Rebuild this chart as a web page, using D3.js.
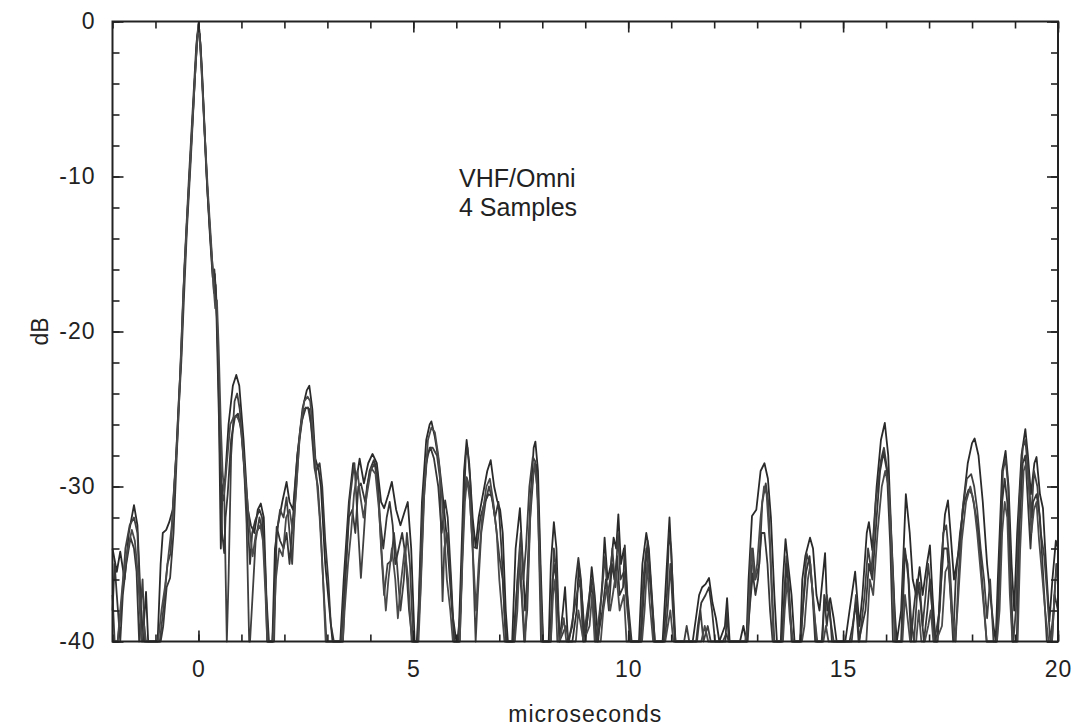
<!DOCTYPE html>
<html>
<head>
<meta charset="utf-8">
<script src="https://cdn.jsdelivr.net/npm/d3@7"></script>
<style>
  body { margin: 0; background: #fff; }
  text { font-family: "Liberation Sans", Arial, sans-serif; fill: #222; }
</style>
</head>
<body>
<div id="chart"></div>
<script>
// four measured impulse responses, [microseconds, dB] pairs read off the plot
// values below -40 sit on the floor of the plot
var sample1 = [[-2.0,-34],[-1.9,-35.5],[-1.82,-34.2],[-1.72,-36],[-1.62,-33],[-1.5,-31.2],[-1.42,-32.5],[-1.35,-37],[-1.3,-42],[-1.22,-36.8],[-1.17,-42],[-0.95,-42],[-0.88,-35],[-0.83,-33],[-0.75,-32.8],[-0.68,-32.3],[-0.6,-31.5],[-0.52,-28],[-0.45,-24],[-0.4,-21.5],[-0.33,-16],[-0.22,-10],[-0.12,-5],[-0.05,-1.5],[0,-0.2],[0.05,-1.5],[0.12,-5.5],[0.2,-10.5],[0.28,-14],[0.32,-15.5],[0.35,-16.5],[0.38,-16.3],[0.42,-19],[0.48,-26],[0.52,-34],[0.56,-30],[0.62,-29.5],[0.7,-26],[0.8,-23.5],[0.88,-22.8],[0.95,-23.5],[1.05,-27],[1.15,-31.5],[1.22,-32.5],[1.3,-33],[1.38,-31.5],[1.45,-31.1],[1.52,-32],[1.58,-37],[1.64,-42],[1.72,-42],[1.78,-34],[1.85,-32.5],[1.95,-31],[2.05,-29.7],[2.12,-31],[2.2,-31.5],[2.3,-28],[2.42,-25],[2.52,-23.8],[2.58,-23.5],[2.65,-25],[2.72,-28.2],[2.8,-29],[2.85,-30],[2.95,-35],[3.05,-38],[3.12,-42],[3.3,-42],[3.38,-36],[3.5,-31],[3.6,-28.5],[3.68,-29.5],[3.75,-28.2],[3.85,-29.8],[3.95,-28.5],[4.05,-27.9],[4.15,-28.5],[4.25,-31],[4.32,-31.4],[4.42,-30.5],[4.5,-29.7],[4.6,-31.5],[4.7,-32.5],[4.8,-31.6],[4.87,-31],[4.95,-34],[5.03,-40],[5.08,-42],[5.12,-38],[5.2,-31],[5.3,-27],[5.38,-26],[5.42,-25.8],[5.5,-26.8],[5.6,-28.5],[5.7,-31],[5.8,-34],[5.9,-38],[6.0,-42],[6.05,-42],[6.1,-36],[6.18,-29],[6.24,-27],[6.3,-28.5],[6.38,-32],[6.45,-33.9],[6.52,-32],[6.62,-30.5],[6.72,-29],[6.8,-28.3],[6.88,-30],[6.95,-30.9],[7.02,-31.5],[7.08,-33],[7.15,-38],[7.2,-42],[7.3,-42],[7.38,-34],[7.48,-31.4],[7.55,-35],[7.6,-38],[7.65,-36],[7.72,-31],[7.8,-27.5],[7.84,-27.1],[7.9,-29],[7.96,-35],[8.02,-42],[8.15,-42],[8.2,-35],[8.27,-32.3],[8.33,-34],[8.4,-40],[8.48,-38],[8.53,-36.5],[8.6,-40],[8.7,-42],[8.8,-38],[8.85,-35],[8.92,-37],[9.0,-42],[9.1,-37],[9.15,-35.2],[9.22,-37],[9.3,-42],[9.4,-36],[9.45,-33.3],[9.52,-36],[9.6,-35],[9.66,-33.3],[9.72,-34],[9.77,-31.8],[9.83,-35],[9.9,-34],[9.95,-36],[10.05,-42],[10.25,-42],[10.33,-35],[10.42,-33],[10.48,-34],[10.55,-37],[10.62,-42],[10.8,-42],[10.88,-36],[10.96,-32],[11.03,-36],[11.1,-42],[11.5,-42],[11.6,-38],[11.65,-37],[11.72,-36.5],[11.8,-36.3],[11.88,-35.9],[11.96,-37.5],[12.04,-38.5],[12.12,-42],[12.25,-39],[12.3,-37.2],[12.36,-42],[12.6,-42],[12.68,-39],[12.75,-42],[12.8,-36],[12.88,-31.9],[12.98,-31.5],[13.08,-29],[13.17,-28.5],[13.25,-29.5],[13.32,-32],[13.4,-37],[13.46,-42],[13.55,-42],[13.6,-36],[13.66,-33.4],[13.72,-35],[13.8,-37],[13.87,-42],[14.0,-42],[14.05,-36],[14.12,-34.5],[14.23,-33.3],[14.3,-34],[14.38,-37],[14.45,-38],[14.52,-36],[14.58,-34.3],[14.63,-38],[14.7,-37.2],[14.78,-38.5],[14.85,-42],[15.05,-42],[15.15,-38],[15.28,-35.5],[15.38,-39],[15.45,-37],[15.55,-33],[15.6,-32.3],[15.68,-34.1],[15.78,-30],[15.88,-27],[15.97,-25.9],[16.05,-28],[16.12,-33],[16.2,-38],[16.25,-42],[16.35,-38],[16.46,-30.5],[16.55,-33],[16.62,-36],[16.7,-37],[16.78,-35.2],[16.85,-37],[16.95,-35],[17.02,-33.8],[17.08,-37],[17.15,-40],[17.2,-42],[17.28,-35],[17.37,-31.8],[17.44,-30.9],[17.5,-33],[17.58,-36],[17.7,-34],[17.8,-31],[17.9,-28.5],[18.0,-27.2],[18.06,-26.9],[18.15,-28],[18.25,-31],[18.35,-35],[18.42,-36.9],[18.5,-39],[18.55,-42],[18.6,-36],[18.7,-29],[18.78,-27.7],[18.85,-30],[18.92,-35],[18.98,-38],[19.05,-33],[19.15,-28],[19.24,-26.3],[19.3,-28],[19.37,-30.5],[19.45,-28.5],[19.5,-28.1],[19.58,-30.5],[19.65,-31.4],[19.72,-35],[19.8,-38.7],[19.87,-36],[19.95,-33.5],[20.0,-34]];

var sample2 = [[-2.0,-37],[-1.95,-40],[-1.88,-42],[-1.8,-38],[-1.7,-34],[-1.6,-32.5],[-1.5,-32],[-1.42,-33],[-1.35,-38],[-1.3,-36],[-1.25,-42],[-0.9,-42],[-0.82,-38],[-0.72,-35],[-0.65,-34.3],[-0.58,-31],[-0.5,-27],[-0.43,-23],[-0.36,-18],[-0.28,-13.5],[-0.2,-9.5],[-0.1,-4.5],[-0.03,-1],[0.02,-0.5],[0.08,-3],[0.15,-7.5],[0.22,-11.5],[0.3,-15],[0.36,-17.5],[0.4,-17],[0.45,-20.5],[0.5,-27],[0.55,-31],[0.6,-30.5],[0.66,-42],[0.7,-36],[0.76,-28],[0.84,-24.5],[0.9,-24],[0.96,-25],[1.05,-28],[1.12,-32.4],[1.18,-40],[1.2,-42],[1.26,-37],[1.33,-33.5],[1.42,-32],[1.5,-33],[1.56,-36],[1.62,-42],[1.76,-42],[1.82,-33],[1.9,-31.5],[1.98,-32],[2.05,-30.7],[2.12,-33],[2.18,-35],[2.25,-31],[2.35,-27],[2.45,-25],[2.55,-24.9],[2.62,-26],[2.7,-28.8],[2.78,-30],[2.85,-33],[2.9,-36],[2.98,-40],[3.02,-42],[3.32,-42],[3.38,-37.4],[3.45,-34],[3.52,-30.9],[3.58,-29.5],[3.63,-28.5],[3.68,-31],[3.72,-33],[3.78,-35.9],[3.85,-33],[3.92,-30],[4.0,-29],[4.1,-28.5],[4.18,-30],[4.25,-34],[4.32,-37],[4.4,-35],[4.48,-34.8],[4.55,-33],[4.62,-35],[4.7,-38],[4.78,-36],[4.85,-33],[4.92,-35],[5.0,-42],[5.1,-42],[5.15,-36],[5.22,-31],[5.3,-28.5],[5.38,-27.5],[5.45,-27.5],[5.55,-28],[5.62,-29.5],[5.68,-37.4],[5.72,-34],[5.78,-33],[5.85,-35.2],[5.95,-40],[6.02,-42],[6.1,-38],[6.18,-31],[6.24,-29.4],[6.3,-30],[6.38,-34],[6.45,-42],[6.5,-37],[6.58,-33],[6.68,-31],[6.76,-30],[6.85,-31],[6.92,-32.5],[7.0,-34.5],[7.08,-36],[7.15,-42],[7.35,-42],[7.42,-36],[7.5,-33],[7.56,-36],[7.62,-34],[7.7,-30],[7.78,-28.1],[7.84,-28.4],[7.9,-31],[7.97,-40],[8.0,-42],[8.2,-42],[8.27,-34],[8.33,-35.5],[8.4,-42],[8.55,-39],[8.62,-42],[8.8,-37],[8.88,-36],[8.95,-42],[9.12,-36.5],[9.18,-36],[9.25,-42],[9.38,-37],[9.46,-34.5],[9.52,-37],[9.58,-36],[9.63,-34],[9.7,-36.5],[9.76,-33],[9.82,-36],[9.9,-35.5],[9.98,-38],[10.05,-42],[10.28,-42],[10.35,-36],[10.42,-34],[10.5,-36],[10.55,-37.4],[10.62,-42],[10.85,-42],[10.92,-37.8],[10.98,-35],[11.04,-38],[11.1,-42],[11.3,-42],[11.36,-39],[11.42,-42],[11.55,-42],[11.6,-40],[11.68,-38],[11.75,-40],[11.85,-39],[11.92,-42],[12.2,-42],[12.28,-39.5],[12.34,-42],[12.78,-42],[12.84,-37],[12.9,-34],[12.96,-36],[13.05,-35],[13.12,-31],[13.2,-29.8],[13.26,-31],[13.32,-35],[13.4,-42],[13.58,-42],[13.63,-37],[13.68,-34.5],[13.74,-36.5],[13.8,-42],[14.02,-42],[14.08,-37],[14.15,-34.3],[14.22,-35],[14.3,-37],[14.38,-42],[14.5,-42],[14.55,-38],[14.62,-37],[14.7,-38.5],[14.78,-42],[15.1,-42],[15.2,-40],[15.3,-37],[15.38,-42],[15.5,-37],[15.58,-34],[15.66,-35.5],[15.76,-31],[15.88,-28.3],[15.95,-27.5],[16.02,-28.8],[16.1,-32],[16.18,-37],[16.22,-42],[16.35,-40],[16.42,-34.1],[16.5,-35],[16.58,-38.5],[16.65,-42],[16.72,-37],[16.78,-36.2],[16.85,-39],[16.92,-37],[16.98,-35],[17.05,-37],[17.12,-42],[17.25,-38],[17.33,-33],[17.4,-32.5],[17.48,-35],[17.55,-38.5],[17.62,-42],[17.68,-36],[17.78,-31.5],[17.88,-29.5],[17.98,-29.2],[18.05,-30],[18.12,-31.5],[18.2,-34],[18.28,-36],[18.35,-38.5],[18.42,-36],[18.5,-42],[18.58,-40],[18.65,-34],[18.72,-29],[18.78,-28.2],[18.84,-30],[18.9,-36],[18.96,-42],[19.02,-38],[19.1,-31],[19.18,-27.5],[19.24,-27],[19.32,-29.5],[19.38,-32],[19.44,-29],[19.52,-30],[19.6,-33],[19.68,-34.5],[19.75,-37],[19.82,-42],[19.9,-38],[19.96,-35],[20.0,-36]];

var sample3 = [[-2.0,-38],[-1.95,-35],[-1.9,-37],[-1.82,-40],[-1.76,-37],[-1.68,-35],[-1.58,-33.3],[-1.5,-34],[-1.44,-35.5],[-1.38,-40],[-1.33,-38],[-1.28,-42],[-0.88,-42],[-0.82,-39],[-0.74,-36.5],[-0.66,-35.9],[-0.58,-33],[-0.52,-29],[-0.46,-25],[-0.4,-22],[-0.34,-18],[-0.27,-13.5],[-0.18,-9],[-0.08,-3.5],[-0.02,-0.8],[0.03,-0.8],[0.1,-4.5],[0.18,-9.5],[0.26,-13.5],[0.33,-16.5],[0.37,-16],[0.41,-17.5],[0.46,-22],[0.5,-28],[0.55,-33],[0.6,-34.3],[0.63,-32],[0.68,-30.5],[0.76,-27],[0.85,-25.5],[0.92,-25.3],[1.0,-26.5],[1.08,-29.5],[1.15,-32.5],[1.2,-35],[1.25,-33],[1.32,-32.2],[1.42,-31.5],[1.48,-32],[1.55,-35],[1.6,-40],[1.63,-42],[1.72,-42],[1.76,-38],[1.82,-32.6],[1.9,-33.5],[1.98,-34],[2.05,-33],[2.12,-35],[2.2,-32],[2.3,-28],[2.4,-25.8],[2.5,-24.9],[2.58,-25],[2.66,-27],[2.73,-29],[2.82,-28.5],[2.88,-30],[2.95,-33.5],[3.02,-36],[3.08,-38.9],[3.15,-42],[3.36,-42],[3.42,-36],[3.5,-32],[3.58,-31.5],[3.65,-33],[3.72,-30],[3.78,-29.8],[3.88,-31],[3.98,-29],[4.08,-28.3],[4.16,-29],[4.22,-32],[4.3,-34],[4.38,-32],[4.45,-31],[4.52,-32.5],[4.58,-35],[4.66,-34],[4.74,-33],[4.82,-34.5],[4.9,-38],[4.98,-42],[5.1,-42],[5.16,-37],[5.24,-31],[5.32,-28],[5.4,-27.5],[5.48,-28.2],[5.58,-30],[5.66,-33],[5.74,-30.9],[5.8,-32],[5.88,-36],[5.95,-40],[6.0,-42],[6.08,-40],[6.15,-33],[6.22,-28],[6.26,-27.5],[6.32,-29.5],[6.4,-33.9],[6.48,-34],[6.56,-32],[6.66,-31],[6.75,-30.5],[6.82,-30.6],[6.9,-32],[6.98,-31],[7.05,-34],[7.12,-38],[7.17,-42],[7.32,-42],[7.4,-37],[7.46,-35],[7.52,-37],[7.58,-42],[7.65,-38],[7.72,-32],[7.8,-29],[7.86,-28.6],[7.92,-32],[7.98,-38],[8.02,-42],[8.18,-42],[8.24,-36],[8.3,-35],[8.36,-38],[8.42,-42],[8.6,-42],[8.7,-39],[8.78,-36],[8.84,-34.6],[8.9,-36],[8.98,-42],[9.08,-38],[9.14,-36],[9.2,-38.5],[9.28,-42],[9.4,-38],[9.48,-36],[9.55,-38],[9.62,-35],[9.68,-36],[9.74,-34.5],[9.8,-37],[9.88,-36.5],[9.92,-33.8],[9.98,-37],[10.08,-42],[10.3,-42],[10.38,-36],[10.45,-33.5],[10.52,-36],[10.6,-42],[10.82,-42],[10.9,-37],[10.95,-33],[11.0,-34],[11.08,-42],[11.58,-42],[11.62,-39],[11.7,-37.5],[11.8,-37],[11.88,-36.5],[11.95,-38],[12.02,-42],[12.26,-42],[12.3,-38],[12.34,-42],[12.76,-42],[12.82,-38],[12.9,-35.6],[12.96,-37],[13.02,-36],[13.1,-33],[13.17,-33],[13.24,-35],[13.3,-38],[13.36,-42],[13.56,-42],[13.62,-38],[13.68,-35],[13.75,-37.3],[13.82,-42],[14.0,-42],[14.06,-38],[14.14,-35.5],[14.22,-34.5],[14.28,-36.5],[14.35,-42],[14.52,-42],[14.56,-37],[14.62,-39],[14.68,-37.5],[14.74,-40],[14.8,-42],[15.15,-42],[15.22,-39],[15.3,-37.5],[15.36,-42],[15.52,-38],[15.6,-35],[15.68,-36],[15.78,-32],[15.86,-29],[15.94,-27.8],[16.02,-29],[16.1,-34],[16.16,-42],[16.36,-40],[16.44,-34],[16.52,-36],[16.58,-40],[16.64,-38],[16.72,-36],[16.8,-37.5],[16.88,-42],[16.96,-38],[17.02,-36],[17.1,-39],[17.18,-42],[17.26,-37],[17.34,-34],[17.42,-34],[17.5,-37],[17.56,-40],[17.62,-36],[17.72,-33],[17.82,-31],[17.92,-30.2],[18.0,-30.5],[18.1,-32],[18.18,-34],[18.26,-37],[18.34,-42],[18.56,-42],[18.62,-37],[18.7,-31],[18.76,-29.5],[18.82,-31],[18.88,-35],[18.94,-42],[19.04,-40],[19.1,-33],[19.18,-28.5],[19.24,-28],[19.3,-31],[19.36,-34],[19.42,-31],[19.5,-30.5],[19.58,-32],[19.66,-36],[19.74,-42],[19.86,-42],[19.92,-37],[20.0,-38]];

var sample4 = [[-2.0,-40],[-1.96,-42],[-1.88,-42],[-1.82,-38],[-1.74,-35.5],[-1.64,-34],[-1.55,-32.8],[-1.48,-33.5],[-1.4,-36],[-1.33,-42],[-1.26,-39],[-1.22,-42],[-0.94,-42],[-0.86,-38],[-0.78,-36.5],[-0.7,-34.5],[-0.62,-32.5],[-0.55,-29.5],[-0.48,-26.5],[-0.42,-22.5],[-0.35,-17.5],[-0.26,-12.5],[-0.16,-7.5],[-0.06,-2.5],[0,-0.1],[0.06,-2.5],[0.14,-7],[0.22,-11],[0.3,-14.5],[0.35,-17],[0.39,-18.5],[0.43,-18],[0.47,-21],[0.52,-26],[0.56,-29],[0.6,-30.5],[0.66,-28.5],[0.74,-26],[0.82,-25.5],[0.9,-25.5],[0.98,-26],[1.06,-28.5],[1.14,-31],[1.2,-33],[1.26,-34.5],[1.34,-33],[1.44,-32.5],[1.5,-33.5],[1.56,-37],[1.6,-42],[1.74,-42],[1.8,-36],[1.88,-34],[1.96,-34.5],[2.04,-32],[2.12,-31.5],[2.2,-33],[2.28,-30],[2.36,-26.5],[2.46,-24.5],[2.54,-24.2],[2.6,-24.5],[2.68,-27],[2.75,-29.5],[2.82,-32],[2.9,-36],[2.96,-42],[3.36,-42],[3.4,-38],[3.48,-35],[3.55,-33],[3.62,-30.5],[3.7,-29],[3.76,-30.5],[3.84,-32],[3.92,-30.5],[4.02,-28.8],[4.12,-29.2],[4.2,-31.5],[4.28,-35],[4.36,-38],[4.42,-36],[4.5,-34],[4.58,-36],[4.64,-38.5],[4.72,-36],[4.8,-34],[4.88,-36],[4.96,-42],[5.12,-42],[5.18,-36],[5.26,-30],[5.34,-27],[5.42,-26.2],[5.5,-26.5],[5.58,-28],[5.66,-30.5],[5.72,-33],[5.78,-36],[5.86,-38],[5.92,-42],[6.08,-42],[6.14,-35],[6.2,-31],[6.25,-29.5],[6.32,-31],[6.4,-35],[6.46,-38],[6.52,-35],[6.6,-32],[6.7,-30],[6.78,-29.5],[6.86,-31],[6.94,-33],[7.0,-36],[7.06,-38],[7.12,-42],[7.36,-42],[7.42,-38],[7.48,-34],[7.54,-37.5],[7.6,-42],[7.66,-36],[7.74,-30.5],[7.82,-28.5],[7.88,-30],[7.95,-36],[8.0,-42],[8.2,-42],[8.25,-37],[8.3,-36],[8.35,-40],[8.4,-42],[8.5,-38.5],[8.56,-42],[8.78,-42],[8.84,-38],[8.9,-39],[8.96,-42],[9.1,-39],[9.16,-37],[9.22,-42],[9.36,-42],[9.42,-38],[9.5,-36.5],[9.58,-38],[9.64,-37],[9.72,-35.5],[9.8,-38],[9.9,-37],[9.96,-40],[10.02,-42],[10.32,-42],[10.38,-38],[10.44,-35],[10.5,-37.5],[10.58,-42],[10.86,-42],[10.92,-39],[10.98,-38],[11.05,-42],[11.4,-42],[11.45,-40],[11.5,-42],[11.62,-42],[11.7,-40],[11.78,-39],[11.86,-40.5],[11.92,-42],[12.72,-42],[12.78,-39],[12.86,-34],[12.94,-36],[13.0,-35],[13.08,-32],[13.16,-30],[13.22,-30.5],[13.3,-34],[13.38,-42],[13.6,-42],[13.64,-38],[13.7,-36],[13.76,-38.5],[13.84,-42],[14.04,-42],[14.1,-39],[14.18,-36],[14.24,-35],[14.32,-38],[14.4,-42],[14.54,-42],[14.6,-39],[14.66,-40.5],[14.72,-42],[15.2,-42],[15.26,-40],[15.32,-42],[15.54,-40],[15.62,-36],[15.7,-37],[15.8,-33],[15.9,-30],[15.98,-29],[16.06,-30],[16.14,-35],[16.2,-42],[16.38,-42],[16.44,-37],[16.5,-38.5],[16.56,-42],[16.7,-40],[16.76,-38],[16.82,-40],[16.9,-42],[16.98,-39],[17.04,-38],[17.1,-40],[17.16,-42],[17.3,-39],[17.38,-35.5],[17.46,-35],[17.52,-38],[17.6,-42],[17.66,-38],[17.76,-33.5],[17.86,-31],[17.96,-30],[18.04,-31],[18.12,-33],[18.2,-35.5],[18.28,-38],[18.34,-42],[18.58,-42],[18.64,-38],[18.7,-33],[18.76,-31],[18.82,-32],[18.88,-37],[18.94,-42],[19.06,-42],[19.12,-34],[19.2,-29],[19.26,-28.5],[19.32,-30],[19.38,-33],[19.44,-31.5],[19.5,-31],[19.56,-33.5],[19.64,-36],[19.7,-38],[19.78,-42],[19.86,-40],[19.94,-36],[20.0,-35]];

var samples = [sample1, sample2, sample3, sample4];

var xMajor = [0, 5, 10, 15, 20];
var yMajor = [0, -10, -20, -30, -40];

var margin = {top: 21.5, right: 17, bottom: 84.5, left: 112.5},
width = 1075 - margin.left - margin.right,
height = 726 - margin.top - margin.bottom;

let svg = d3.select("#chart").append("svg")
            .attr("width", 1075)
            .attr("height", 726);

let g = svg.append("g")
           .attr("transform", "translate(" + margin.left + "," + margin.top + ")");

let xScale = d3.scaleLinear()
               .domain([-2, 20])
               .range([0, width]);

let yScale = d3.scaleLinear()
               .domain([-40, 0])
               .range([height, 0])
               .clamp(true);

let xMinor = d3.range(-2, 21, 1);
let yMinor = d3.range(-40, 1, 2);

// the traces
let line = d3.line()
             .x(d => xScale(d[0]))
             .y(d => yScale(d[1]));

g.selectAll(".trace")
 .data(samples)
 .enter()
 .append("path")
 .attr("class", "trace")
 .attr("d", line)
 .attr("fill", "none")
 .attr("stroke", (d, i) => ["#2a2a2a", "#404040", "#363636", "#4a4a4a"][i])
 .attr("stroke-width", 1.8)
 .attr("stroke-linejoin", "round");

// ticks all point inward
function styleAxis(sel) {
    sel.select(".domain").remove();
    sel.selectAll("line").attr("stroke", "#222").attr("stroke-width", 1.6);
    sel.selectAll("text")
       .style("font-size", "23px")
       .style("letter-spacing", "1px")
       .attr("fill", "#222");
}

// plain hyphen for negatives, as on the original plot
let plain = d => String(d);

g.append("g").attr("transform", "translate(0," + height + ")")
 .call(d3.axisBottom(xScale).tickValues(xMinor).tickSize(-7).tickFormat(""))
 .call(styleAxis);
g.append("g").attr("transform", "translate(0," + height + ")")
 .call(d3.axisBottom(xScale).tickValues(xMajor).tickSize(-11).tickPadding(19).tickFormat(plain))
 .call(styleAxis);

g.append("g")
 .call(d3.axisTop(xScale).tickValues(xMinor).tickSize(-7).tickFormat(""))
 .call(styleAxis);
g.append("g")
 .call(d3.axisTop(xScale).tickValues(xMajor).tickSize(-11).tickFormat(""))
 .call(styleAxis);

g.append("g")
 .call(d3.axisLeft(yScale).tickValues(yMinor).tickSize(-7).tickFormat(""))
 .call(styleAxis);
g.append("g")
 .call(d3.axisLeft(yScale).tickValues(yMajor).tickSize(-11).tickPadding(17).tickFormat(plain))
 .call(styleAxis);

g.append("g").attr("transform", "translate(" + width + ",0)")
 .call(d3.axisRight(yScale).tickValues(yMinor).tickSize(-7).tickFormat(""))
 .call(styleAxis);
g.append("g").attr("transform", "translate(" + width + ",0)")
 .call(d3.axisRight(yScale).tickValues(yMajor).tickSize(-11).tickFormat(""))
 .call(styleAxis);

// frame
g.append("rect")
 .attr("width", width)
 .attr("height", height)
 .attr("fill", "none")
 .attr("stroke", "#222")
 .attr("stroke-width", 2);

// axis titles
svg.append("text")
   .attr("text-anchor", "middle")
   .attr("x", margin.left + width / 2)
   .attr("y", 722)
   .style("font-size", "23px")
   .style("letter-spacing", "1px")
   .text("microseconds");

svg.append("text")
   .attr("text-anchor", "middle")
   .attr("transform", "translate(48," + (margin.top + height / 2) + ") rotate(-90)")
   .style("font-size", "23px")
   .text("dB");

// annotation
let note = svg.append("text")
              .attr("x", 459)
              .attr("y", 187)
              .style("font-size", "25px");
note.append("tspan").attr("x", 459).text("VHF/Omni");
note.append("tspan").attr("x", 459).attr("dy", 29).text("4 Samples");
</script>
</body>
</html>
